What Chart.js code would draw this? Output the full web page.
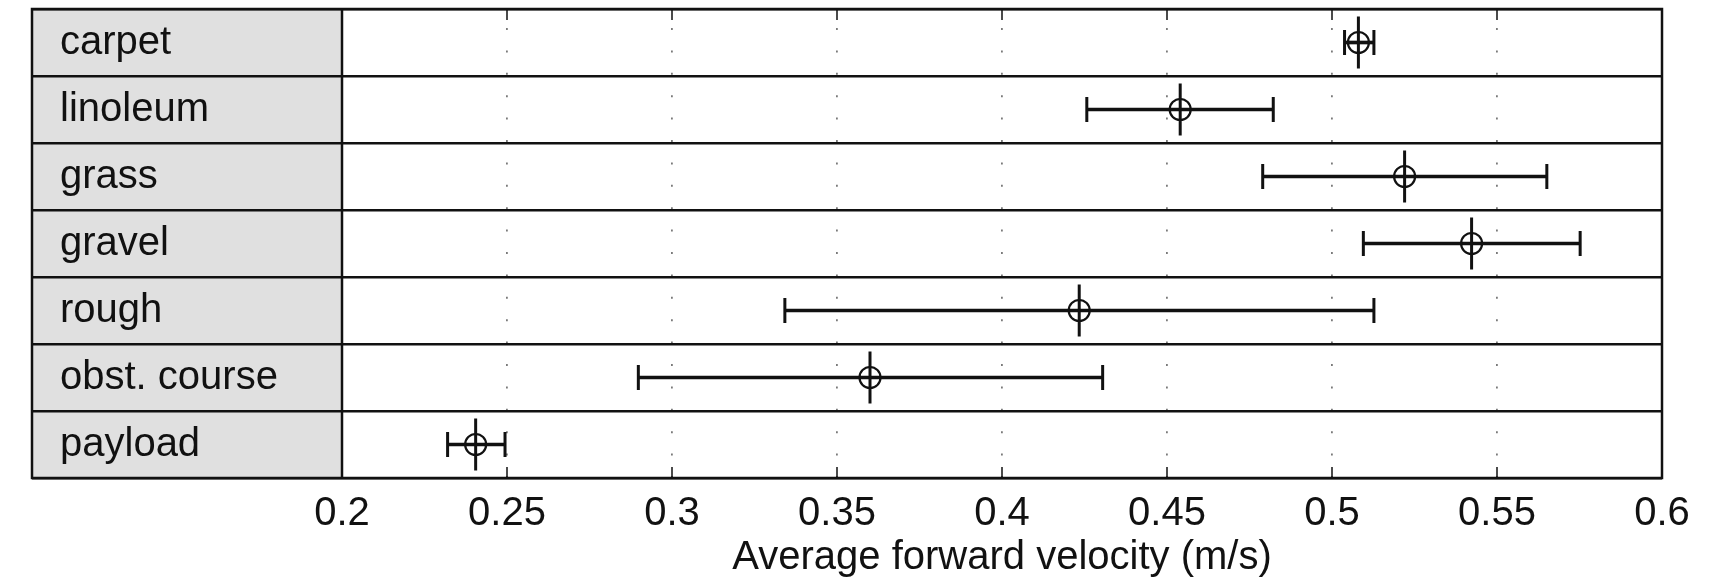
<!DOCTYPE html>
<html>
<head>
<meta charset="utf-8">
<script src="https://cdn.jsdelivr.net/npm/chart.js@4/dist/chart.umd.min.js"></script>
<style>
  html, body { margin: 0; padding: 0; background: #fff; }
  canvas { display: block; }
</style>
</head>
<body>
<canvas id="c" width="1725" height="580"></canvas>
<script>
// ---- data ----
const categories = ['carpet', 'linoleum', 'grass', 'gravel', 'rough', 'obst. course', 'payload'];
const means      = [0.508, 0.454, 0.522, 0.5423, 0.4234, 0.360, 0.2405];
const lowerEnds  = [0.5038, 0.4257, 0.479, 0.5095, 0.3342, 0.2898, 0.232];
const upperEnds  = [0.5127, 0.4822, 0.5651, 0.5752, 0.5127, 0.4305, 0.2494];
const xTickLabels = ['0.2', '0.25', '0.3', '0.35', '0.4', '0.45', '0.5', '0.55', '0.6'];
const xTitle = 'Average forward velocity (m/s)';

const FONT = '"Liberation Sans", Arial, Helvetica, sans-serif';
const INK = '#111';
const FRAME_LEFT = 32;

const ranges = lowerEnds.map((lo, i) => [lo, upperEnds[i]]);
const pts = arr => arr.map((v, i) => ({ x: v, y: categories[i] }));

const framePlugin = {
  id: 'frame',
  beforeDraw(chart) {
    const { ctx, chartArea: ca } = chart;
    ctx.save();
    ctx.fillStyle = '#fff';
    ctx.fillRect(0, 0, chart.width, chart.height);
    ctx.fillStyle = '#e0e0e0';
    ctx.fillRect(FRAME_LEFT, ca.top, ca.left - FRAME_LEFT, ca.bottom - ca.top);
    ctx.restore();
  },
  afterDraw(chart) {
    const { ctx, chartArea: ca } = chart;
    const xs = chart.scales.x;
    ctx.save();
    ctx.strokeStyle = INK;
    ctx.lineWidth = 1.5;
    xs.ticks.forEach((t, i) => {
      const px = xs.getPixelForTick(i);
      ctx.beginPath();
      ctx.moveTo(px, ca.bottom); ctx.lineTo(px, ca.bottom - 11);
      ctx.moveTo(px, ca.top); ctx.lineTo(px, ca.top + 11);
      ctx.stroke();
    });
    ctx.lineWidth = 2.5;
    ctx.strokeRect(FRAME_LEFT, ca.top, ca.right - FRAME_LEFT, ca.bottom - ca.top);
    ctx.beginPath();
    ctx.moveTo(ca.left, ca.top); ctx.lineTo(ca.left, ca.bottom);
    ctx.stroke();
    ctx.restore();
  }
};

new Chart(document.getElementById('c'), {
  type: 'bar',
  data: {
    labels: categories,
    datasets: [
      {
        label: 'range',
        data: ranges,
        backgroundColor: INK,
        borderWidth: 0,
        barThickness: 3,
        order: 3
      },
      {
        type: 'scatter',
        label: 'caps low',
        data: pts(lowerEnds),
        xAxisID: 'x', yAxisID: 'y',
        pointStyle: 'line', rotation: 90,
        pointRadius: 12.5, borderColor: INK, borderWidth: 3,
        order: 2
      },
      {
        type: 'scatter',
        label: 'caps high',
        data: pts(upperEnds),
        xAxisID: 'x', yAxisID: 'y',
        pointStyle: 'line', rotation: 90,
        pointRadius: 12.5, borderColor: INK, borderWidth: 3,
        order: 2
      },
      {
        type: 'scatter',
        label: 'mean stem',
        data: pts(means),
        xAxisID: 'x', yAxisID: 'y',
        pointStyle: 'line', rotation: 90,
        pointRadius: 26, borderColor: INK, borderWidth: 3,
        order: 1
      },
      {
        type: 'scatter',
        label: 'mean',
        data: pts(means),
        xAxisID: 'x', yAxisID: 'y',
        pointStyle: 'circle',
        pointRadius: 10.5, borderColor: INK, borderWidth: 2.2,
        backgroundColor: 'rgba(0,0,0,0)',
        order: 0
      }
    ]
  },
  options: {
    indexAxis: 'y',
    responsive: false,
    animation: false,
    devicePixelRatio: 1,
    layout: { autoPadding: false, padding: { left: 60, right: 63, top: 9, bottom: 0 } },
    plugins: {
      legend: { display: false },
      tooltip: { enabled: false }
    },
    scales: {
      x: {
        type: 'linear',
        position: 'bottom',
        min: 0.2,
        max: 0.6,
        ticks: {
          stepSize: 0.05,
          padding: 16,
          color: INK,
          font: { family: FONT, size: 40, lineHeight: 1.0 },
          callback: (v, i) => xTickLabels[i]
        },
        grid: {
          color: '#7a7a7a',
          lineWidth: 1.8,
          drawTicks: false
        },
        border: { display: false, dash: [2, 20.4], dashOffset: 3.4 },
        title: {
          display: true,
          text: xTitle,
          color: INK,
          font: { family: FONT, size: 40, lineHeight: 1.0 },
          padding: { top: 0, bottom: 2 }
        },
        afterFit(scale) { scale.height = 102; }
      },
      y: {
        type: 'category',
        position: 'left',
        offset: true,
        grid: {
          offset: true,
          color: INK,
          lineWidth: 2.5,
          drawTicks: true,
          tickLength: 310
        },
        border: { display: false },
        ticks: {
          crossAlign: 'far',
          padding: 0,
          color: INK,
          font: { family: FONT, size: 40 }
        },
        afterFit(scale) {
          scale.width = 282;
          scale.paddingTop = 0;
          scale.paddingBottom = 0;
        }
      }
    }
  },
  plugins: [framePlugin]
});
</script>
</body>
</html>
